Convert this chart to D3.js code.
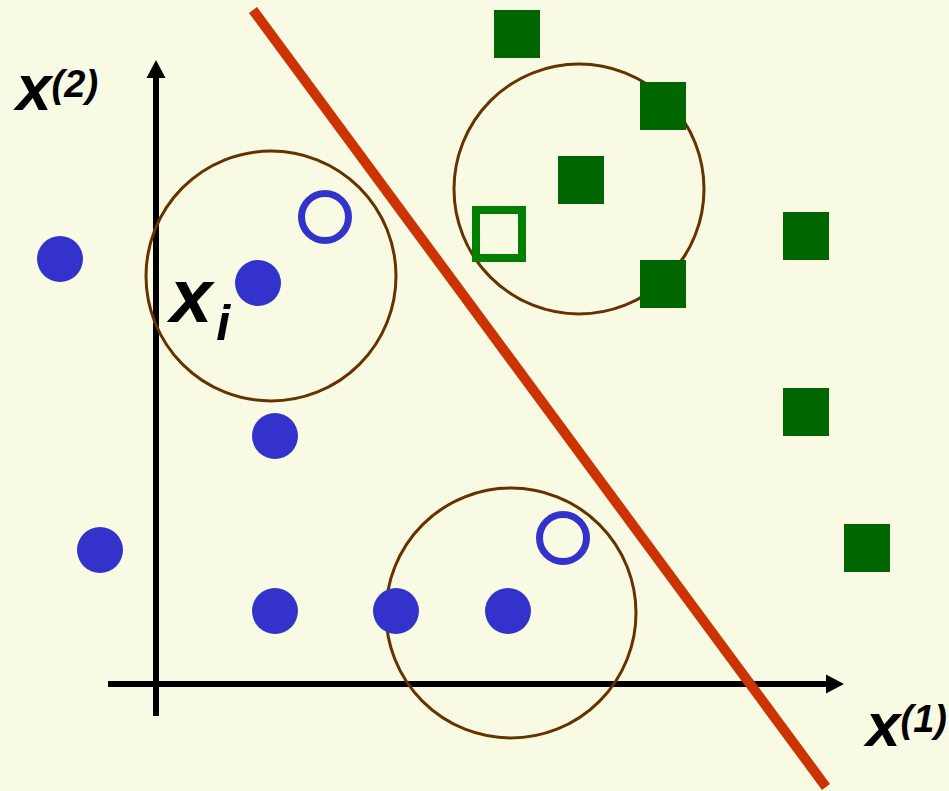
<!DOCTYPE html>
<html lang="en">
<head>
    <meta charset="UTF-8"/>
    <title>kNN classification</title>
    <script src="https://d3js.org/d3.v7.min.js"></script>
    <style>
        html, body { margin: 0; padding: 0; background: #f9fae4; }
        svg { display: block; }
        text { font-family: "Liberation Sans", Arial, sans-serif; font-weight: bold; font-style: italic; fill: #000; }
    </style>
</head>
<body>
    <script>
        var w = 949;
        var h = 791;

        // data in axis units (origin at the axes crossing)
        var blueFilled = [[-1.92, 8.5], [2.04, 8.02], [2.38, 4.96], [-1.12, 2.68],
                          [2.38, 1.46], [4.8, 1.46], [7.04, 1.46]];
        var blueOpen = [[3.38, 9.34], [8.14, 2.92]];
        var greenFilled = [[7.22, 13.0], [10.14, 11.56], [8.5, 10.08], [10.14, 8.0],
                           [13.0, 8.96], [13.0, 5.44], [14.22, 2.72]];
        var greenOpen = [[6.86, 9.0]];
        var neighbourhoods = [[2.3, 8.16, 2.5], [8.46, 9.9, 2.5], [7.1, 1.42, 2.5]];
        var boundary = [[1.94, 13.48], [13.4, -2.06]];
        var xAxisRange = [-0.96, 13.76];
        var yAxisRange = [-0.64, 12.48];

        var xScale = d3.scaleLinear().domain([0, 10]).range([156, 656]);
        var yScale = d3.scaleLinear().domain([0, 10]).range([684, 184]);
        var unit = xScale(1) - xScale(0);

        var svg = d3.select("body")
            .append("svg")
            .attr("width", w)
            .attr("height", h);

        svg.append("rect")
            .attr("width", w)
            .attr("height", h)
            .attr("fill", "#f9fae4");

        // axes with arrowheads
        var ax = svg.append("g");
        ax.append("line")
            .attr("x1", xScale(xAxisRange[0])).attr("x2", xScale(xAxisRange[1]) - 14)
            .attr("y1", yScale(0)).attr("y2", yScale(0))
            .attr("stroke", "#000").attr("stroke-width", 6);
        ax.append("path")
            .attr("d", "M" + xScale(xAxisRange[1]) + "," + yScale(0)
                + "l-18,-9.5l0,19z")
            .attr("fill", "#000");
        ax.append("line")
            .attr("x1", xScale(0)).attr("x2", xScale(0))
            .attr("y1", yScale(yAxisRange[0])).attr("y2", yScale(yAxisRange[1]) + 14)
            .attr("stroke", "#000").attr("stroke-width", 6);
        ax.append("path")
            .attr("d", "M" + xScale(0) + "," + yScale(yAxisRange[1])
                + "l-9.5,18l19,0z")
            .attr("fill", "#000");

        // neighbourhood circles
        svg.selectAll("circle.nb")
            .data(neighbourhoods)
            .enter()
            .append("circle")
            .attr("class", "nb")
            .attr("cx", function(d) { return xScale(d[0]); })
            .attr("cy", function(d) { return yScale(d[1]); })
            .attr("r", function(d) { return d[2] * unit; })
            .attr("fill", "none")
            .attr("stroke", "#663300")
            .attr("stroke-width", 3);

        // blue class
        svg.selectAll("circle.bf")
            .data(blueFilled)
            .enter()
            .append("circle")
            .attr("class", "bf")
            .attr("cx", function(d) { return xScale(d[0]); })
            .attr("cy", function(d) { return yScale(d[1]); })
            .attr("r", 23)
            .attr("fill", "#3333cc");

        svg.selectAll("circle.bo")
            .data(blueOpen)
            .enter()
            .append("circle")
            .attr("class", "bo")
            .attr("cx", function(d) { return xScale(d[0]); })
            .attr("cy", function(d) { return yScale(d[1]); })
            .attr("r", 23.5)
            .attr("fill", "none")
            .attr("stroke", "#3333cc")
            .attr("stroke-width", 7);

        // green class
        svg.selectAll("rect.gf")
            .data(greenFilled)
            .enter()
            .append("rect")
            .attr("class", "gf")
            .attr("x", function(d) { return xScale(d[0]) - 23; })
            .attr("y", function(d) { return yScale(d[1]) - 24; })
            .attr("width", 46)
            .attr("height", 48)
            .attr("fill", "#006600");

        svg.selectAll("rect.go")
            .data(greenOpen)
            .enter()
            .append("rect")
            .attr("class", "go")
            .attr("x", function(d) { return xScale(d[0]) - 23; })
            .attr("y", function(d) { return yScale(d[1]) - 24; })
            .attr("width", 46)
            .attr("height", 48)
            .attr("fill", "none")
            .attr("stroke", "#008000")
            .attr("stroke-width", 8);

        // decision boundary
        svg.append("line")
            .attr("x1", xScale(boundary[0][0])).attr("y1", yScale(boundary[0][1]))
            .attr("x2", xScale(boundary[1][0])).attr("y2", yScale(boundary[1][1]))
            .attr("stroke", "#cc3300")
            .attr("stroke-width", 10);

        // labels
        var l2 = svg.append("text").attr("x", 16).attr("y", 110);
        l2.append("tspan").attr("font-size", 64).text("x");
        l2.append("tspan").attr("font-size", 38).attr("dy", -13).text("(2)");

        var l1 = svg.append("text").attr("x", 866).attr("y", 746);
        l1.append("tspan").attr("font-size", 62).text("x");
        l1.append("tspan").attr("font-size", 38).attr("dy", -14).text("(1)");

        var li = svg.append("text").attr("x", 170).attr("y", 322);
        li.append("tspan").attr("font-size", 76).text("x");
        li.append("tspan").attr("font-size", 50).attr("dx", 4).attr("dy", 18).text("i");
    </script>
</body>
</html>
